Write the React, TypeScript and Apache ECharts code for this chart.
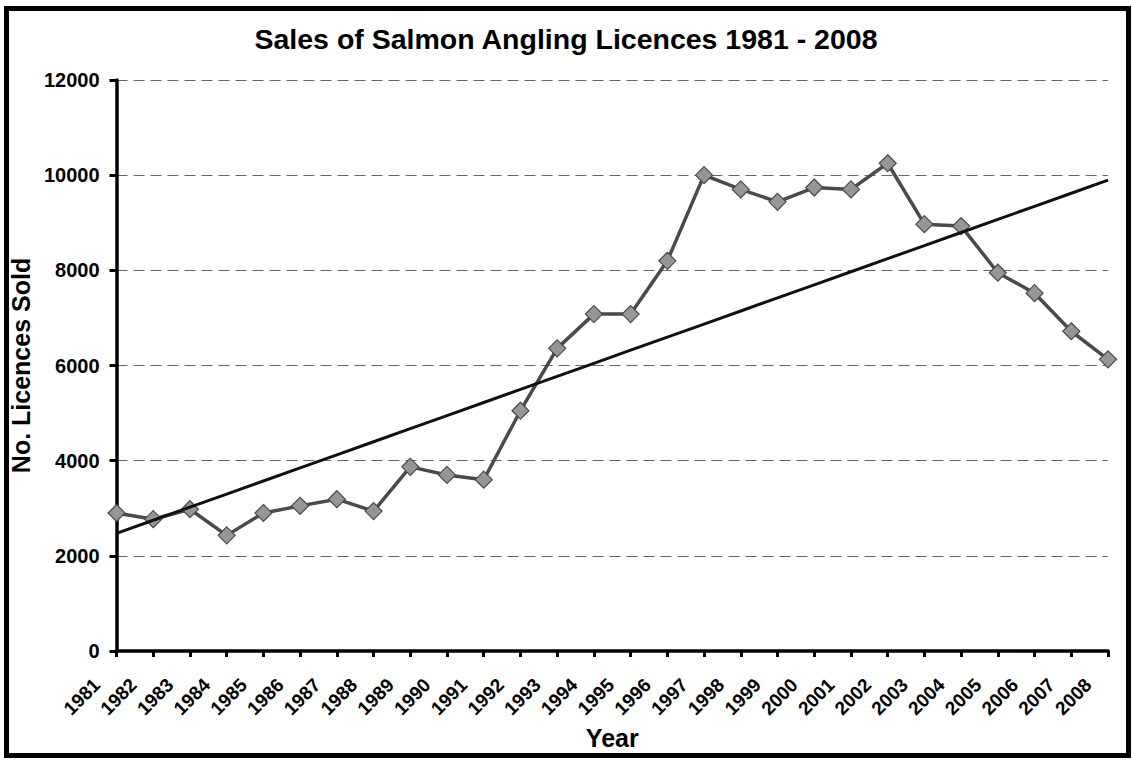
import React, { useEffect, useRef } from "react";
import * as echarts from "echarts";

const years: string[] = [
  "1981", "1982", "1983", "1984", "1985", "1986", "1987", "1988", "1989", "1990",
  "1991", "1992", "1993", "1994", "1995", "1996", "1997", "1998", "1999", "2000",
  "2001", "2002", "2003", "2004", "2005", "2006", "2007", "2008",
];

const licencesSold: number[] = [
  2900, 2770, 2980, 2430, 2900, 3050, 3190, 2940, 3870, 3700,
  3600, 5050, 6360, 7080, 7080, 8200, 10000, 9700, 9440, 9740,
  9700, 10250, 8970, 8930, 7950, 7520, 6720, 6130,
];

const yTicks: number[] = [0, 2000, 4000, 6000, 8000, 10000, 12000];

const titleText = "Sales of Salmon Angling Licences 1981 - 2008";
const xAxisName = "Year";
const yAxisName = "No. Licences Sold";

// Least-squares linear trend derived from the data above
function linearTrend(values: number[]): number[] {
  const n = values.length;
  let sx = 0, sy = 0, sxy = 0, sxx = 0;
  values.forEach((v, i) => {
    sx += i; sy += v; sxy += i * v; sxx += i * i;
  });
  const slope = (n * sxy - sx * sy) / (n * sxx - sx * sx);
  const intercept = (sy - slope * sx) / n;
  return values.map((_, i) => intercept + slope * i);
}

const FONT = "'Liberation Sans', Arial, Helvetica, sans-serif";

export default function App() {
  const ref = useRef<HTMLDivElement>(null);

  useEffect(() => {
    if (!ref.current) return;
    const chart = echarts.init(ref.current, undefined, { renderer: "svg" });
    const trend = linearTrend(licencesSold);
    chart.setOption({
      animation: false,
      backgroundColor: "#ffffff",
      title: {
        text: titleText,
        left: "center",
        top: 19,
        textStyle: { fontFamily: FONT, fontSize: 28.5, fontWeight: "bold", color: "#000" },
      },
      grid: { left: 116, right: 24, top: 80, bottom: 110, containLabel: false },
      xAxis: {
        type: "category",
        data: years,
        boundaryGap: false,
        name: xAxisName,
        nameLocation: "middle",
        nameGap: 67,
        nameTextStyle: { fontFamily: FONT, fontSize: 25, fontWeight: "bold", color: "#000" },
        axisLine: { show: true, lineStyle: { color: "#000", width: 3.5 } },
        axisTick: { show: true, alignWithLabel: true, length: 6, lineStyle: { color: "#000", width: 3 } },
        axisLabel: {
          interval: 0,
          rotate: 45,
          margin: 11,
          padding: [0, 28, 0, 0],
          fontFamily: FONT,
          fontSize: 19,
          fontWeight: "bold",
          color: "#000",
          hideOverlap: false,
        },
        splitLine: { show: false },
      },
      yAxis: {
        type: "value",
        min: yTicks[0],
        max: yTicks[yTicks.length - 1],
        interval: 2000,
        name: yAxisName,
        nameLocation: "middle",
        nameGap: 75,
        nameTextStyle: { fontFamily: FONT, fontSize: 25, fontWeight: "bold", color: "#000" },
        axisLine: { show: true, lineStyle: { color: "#000", width: 3.5 } },
        axisTick: { show: true, length: 7, lineStyle: { color: "#000", width: 3 } },
        axisLabel: {
          margin: 17,
          fontFamily: FONT,
          fontSize: 20,
          fontWeight: "bold",
          color: "#000",
          formatter: (v: number) => String(v),
        },
        splitLine: { show: true, lineStyle: { color: "#666", width: 1, type: [11, 6] } },
      },
      series: [
        {
          name: "Licences",
          type: "line",
          data: licencesSold,
          symbol: "diamond",
          symbolSize: 17,
          showSymbol: true,
          lineStyle: { color: "#4a4a4a", width: 3.5 },
          itemStyle: { color: "#969696", borderColor: "#4a4a4a", borderWidth: 1.2 },
          z: 3,
        },
        {
          name: "Trend",
          type: "line",
          data: trend,
          symbol: "none",
          lineStyle: { color: "#111", width: 3 },
          z: 4,
        },
      ],
      graphic: [
        {
          type: "rect",
          shape: { x: 6.5, y: 8.5, width: 1122, height: 747 },
          style: { fill: "none", stroke: "#000", lineWidth: 5 },
          silent: true,
          z: 100,
        },
      ],
    });
    return () => chart.dispose();
  }, []);

  return (
    <div
      ref={ref}
      style={{ position: "fixed", left: 0, top: 0, width: 1132, height: 761, background: "#fff" }}
    />
  );
}
